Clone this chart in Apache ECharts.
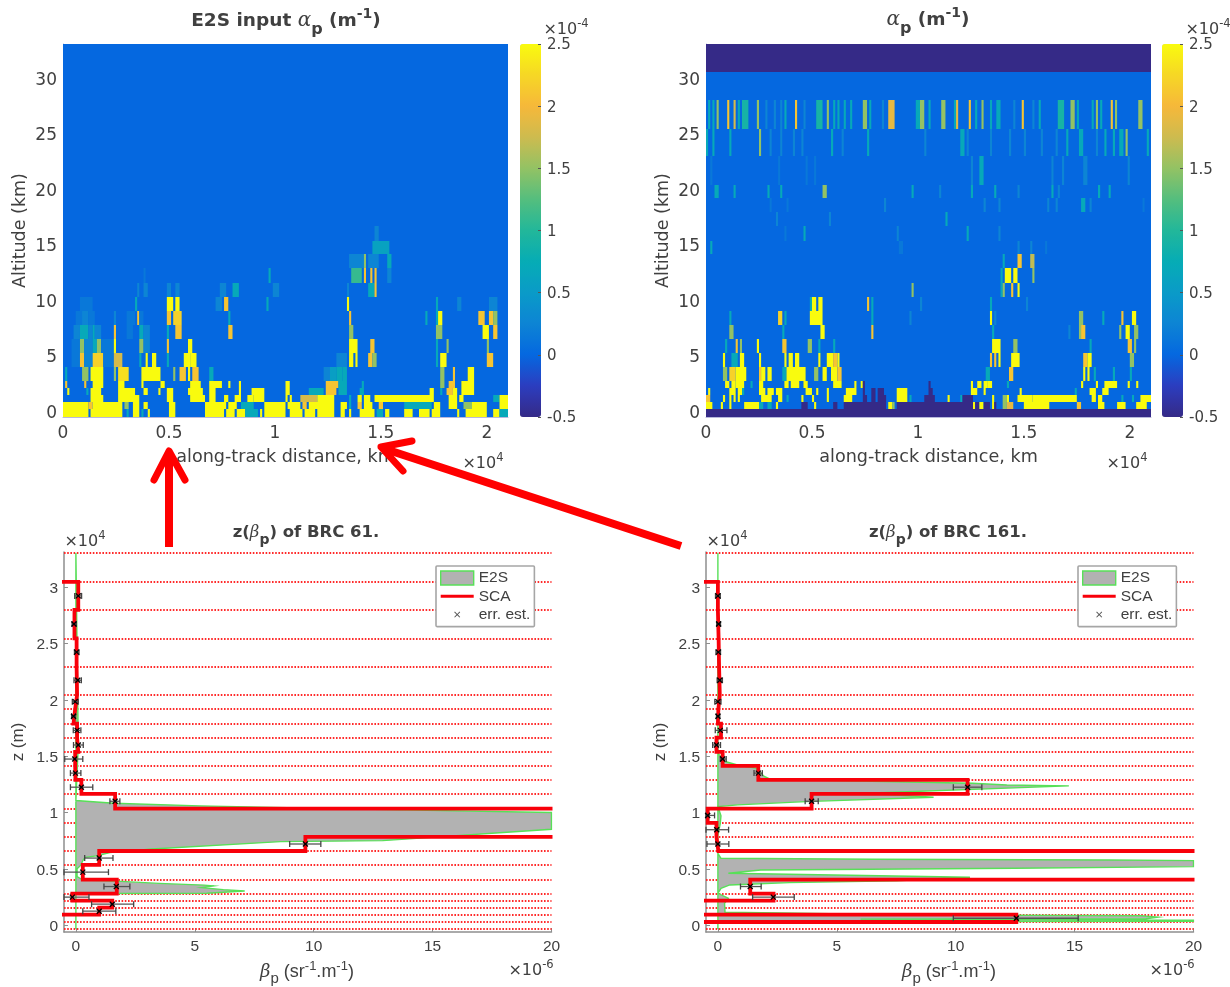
<!DOCTYPE html>
<html><head><meta charset="utf-8">
<style>html,body{margin:0;padding:0;background:#fff}#c{width:1230px;height:987px;filter:blur(.75px)}</style>
<script src="https://cdn.jsdelivr.net/npm/echarts@6/dist/echarts.min.js"></script>
</head><body><div id="c"></div>
<script>
// value levels of the alpha_p colour scale (x 1e-4 per m)
const Y=2.5,O=2.1,G=1.5,T=0.7,L=0.26,F=0.14,P=-0.5;
// altitude layer edges in km (heat maps) bottom to top
const heatEdges=[-0.54,0.18,0.8,1.45,2.1,2.7,3.95,5.2,6.5,7.75,9.05,10.3,11.55,12.85,14.1,15.35,16.65,17.9,19.15,20.4,22.95,25.4,28,30.5,33.06];
// each row: [first BRC, last BRC, value]; BRC spacing is 100 km
const inputR0=[[0,12,Y],[13,28,Y],[30,31,T],[33,36,Y],[37,38,T],[40,41,Y],[50,53,Y],[67,76,Y],[77,81,Y],[82,86,Y],[86,92,T],[93,94,Y],[95,105,Y],[107,113,Y],[114,119,Y],[120,128,Y],[131,133,Y],[135,136,Y],[140,147,Y],[148,151,T],[152,154,Y],[161,165,Y],[168,173,Y],[174,178,Y],[186,187,Y],[190,200,Y],[203,206,Y],[206,210,T]];
const inputR1=[[0,12,Y],[12,14,O],[14,28,Y],[29,31,G],[33,36,Y],[38,40,Y],[50,53,Y],[67,77,Y],[78,82,Y],[84,90,T],[95,105,Y],[106,112,Y],[113,115,O],[116,128,Y],[131,134,Y],[135,136,T],[139,141,O],[142,146,Y],[149,151,O],[161,174,T],[175,178,Y],[182,186,Y],[189,193,G],[193,200,Y],[206,210,Y]];
const inputR2=[[13,19,Y],[26,36,Y],[49,52,Y],[60,67,Y],[69,72,Y],[76,78,Y],[81,84,Y],[87,90,Y],[90,95,Y],[105,106,Y],[107,108,Y],[112,120,1.8],[120,128,Y],[135,136,T],[139,141,Y],[142,145,Y],[147,175,Y],[182,186,Y],[187,189,Y],[203,206,T],[206,210,Y]];
const inputR3=[[2,3,Y],[11,12,T],[13,18,Y],[26,34,Y],[38,40,Y],[45,46,Y],[49,52,Y],[59,66,Y],[69,72,Y],[83,84,Y],[89,95,Y],[105,107,Y],[116,123,T],[124,129,O],[130,134,T],[140,142,T],[173,175,Y],[178,179,T],[181,184,O],[184,186,Y],[188,194,Y]];
const inputR4=[[1,2,O],[10,11,O],[14,19,Y],[26,29,Y],[37,38,Y],[46,48,Y],[60,65,Y],[69,75,Y],[78,79,Y],[83,84,Y],[105,107,Y],[124,130,O],[130,134,T],[141,142,T],[178,180,G],[182,185,O],[188,194,Y]];
const inputR5=[[1,2,T],[9,12,G],[13,19,Y],[24,25,G],[26,31,2.3],[37,46,Y],[52,53,G],[55,58,O],[59,60,Y],[61,64,O],[69,71,T],[123,126,L],[126,129,0.55],[129,132,T],[132,134,T],[178,180,G],[184,185,O],[191,194,Y]];
const inputR6=[[4,8,F],[8,10,O],[10,14,L],[14,19,2.2],[19,24,F],[24,28,1.8],[36,37,T],[39,40,Y],[42,44,Y],[49,50,T],[57,60,Y],[60,63,Y],[129,134,L],[135,137,Y],[138,139,Y],[144,146,O],[146,148,G],[176,177,T],[178,181,Y],[200,203,O]];
const inputR7=[[4,8,F],[8,10,G],[10,14,L],[14,16,T],[16,18,G],[18,24,F],[24,25,Y],[36,38,G],[38,41,L],[49,50,O],[59,61,Y],[135,139,Y],[145,147,O],[176,177,T],[181,182,G],[200,201,G]];
const inputR8=[[5,8,L],[8,12,T],[12,14,L],[14,15,T],[15,18,L],[24,25,O],[30,33,F],[36,38,T],[38,41,L],[49,50,T],[53,56,O],[78,80,O],[135,137,G],[176,179,G],[198,201,Y],[203,205,O]];
const inputR9=[[6,9,F],[9,12,L],[12,15,F],[24,25,L],[30,34,F],[35,36,O],[36,38,F],[49,51,O],[52,56,2.2],[78,79,T],[135,136,O],[171,172,T],[176,177,T],[177,179,Y],[196,199,O],[201,203,O],[203,205,G]];
const inputR10=[[8,14,F],[34,35,T],[49,52,Y],[53,55,Y],[72,75,L],[76,78,O],[96,97,T],[134,135,Y],[176,177,T],[186,188,L],[201,205,L]];
const inputR11=[[35,36,L],[38,40,L],[49,51,L],[53,55,L],[74,77,L],[80,83,T],[99,102,L],[134,135,L],[144,147,T],[147,148,O]];
const inputR12=[[38,39,F],[97,98,T],[136,141,1.1],[142,143,O],[145,146,O],[147,148,O],[153,155,L]];
const inputR13=[[135,142,L],[142,143,G],[144,149,L],[153,155,T]];
const inputR14=[[146,154,0.6]];
const inputR15=[[147,149,L]];
const inputRows=[inputR0,inputR1,inputR2,inputR3,inputR4,inputR5,inputR6,inputR7,inputR8,inputR9,inputR10,inputR11,inputR12,inputR13,inputR14,inputR15];

const retR0=[[0,210,P]];
const retR1=[[0,3,Y],[7,8,Y],[11,12,Y],[18,25,Y],[25,27,T],[29,31,T],[33,34,Y],[45,48,P],[51,52,Y],[60,62,P],[65,67,P],[67,85,P],[86,88,Y],[88,89,G],[90,126,P],[126,127,Y],[127,129,P],[129,131,Y],[131,134,P],[135,136,Y],[136,137,P],[140,142,G],[142,145,1.9],[150,162,Y],[175,177,O],[185,188,Y],[194,198,Y],[203,208,Y]];
const retR2=[[0,2,O],[8,9,Y],[11,12,Y],[13,14,Y],[15,16,Y],[26,31,Y],[34,36,Y],[38,39,T],[45,46,Y],[50,51,Y],[57,58,Y],[65,69,Y],[74,76,P],[78,80,P],[81,85,P],[90,95,Y],[96,97,T],[103,108,P],[114,115,Y],[120,121,T],[121,126,P],[135,136,Y],[140,142,G],[142,143,Y],[147,154,Y],[154,175,Y],[182,184,Y],[185,187,Y],[196,197,T],[201,202,T],[205,210,Y]];
const retR3=[[1,2,Y],[11,14,Y],[15,17,Y],[17,18,T],[25,28,Y],[29,32,Y],[33,36,Y],[47,50,Y],[52,53,Y],[57,58,Y],[66,71,Y],[74,75,P],[78,80,P],[81,84,P],[90,95,Y],[105,107,P],[125,128,Y],[131,132,Y],[148,149,Y],[174,175,T],[181,184,Y],[187,190,Y]];
const retR4=[[9,11,Y],[12,14,Y],[14,18,Y],[21,22,T],[25,27,Y],[37,39,Y],[40,44,Y],[46,48,Y],[60,64,Y],[70,71,Y],[73,74,Y],[74,75,P],[105,106,P],[125,126,Y],[128,130,Y],[131,133,Y],[133,135,Y],[142,143,T],[177,178,Y],[184,185,Y],[188,194,Y],[199,200,Y],[203,204,Y]];
const retR5=[[8,10,G],[11,14,2.2],[14,19,Y],[25,26,O],[26,28,Y],[29,31,Y],[36,38,T],[38,47,Y],[51,53,G],[55,57,Y],[59,62,Y],[62,64,O],[132,134,T],[143,145,O],[178,179,Y],[180,181,Y],[183,184,T],[192,193,T],[200,201,T]];
const retR6=[[8,9,Y],[12,15,T],[16,18,Y],[25,26,Y],[37,38,Y],[39,41,Y],[42,44,Y],[53,54,Y],[57,60,Y],[60,62,O],[62,63,Y],[134,135,O],[136,137,O],[138,139,Y],[144,148,Y],[178,180,O],[180,182,Y],[200,202,G]];
const retR7=[[9,10,T],[14,15,O],[16,17,G],[24,25,Y],[36,38,O],[48,50,G],[53,54,T],[60,61,T],[135,139,Y],[145,147,G],[181,182,T],[199,201,O],[202,203,G]];
const retR8=[[11,13,G],[36,37,T],[54,56,Y],[78,79,O],[135,136,T],[171,172,L],[176,177,G],[177,179,O],[195,196,G],[198,200,Y],[202,204,G]];
const retR9=[[11,12,T],[34,36,2.2],[37,38,T],[49,55,Y],[78,79,T],[96,97,L],[134,135,Y],[136,137,L],[176,178,G],[187,188,T],[196,197,O],[201,203,Y]];
const retR10=[[49,50,T],[50,52,Y],[53,55,Y],[76,77,O],[78,79,T],[101,102,L],[134,135,T],[151,152,L]];
const retR11=[[97,98,G],[139,140,T],[140,141,G],[144,145,O],[147,148,Y]];
const retR12=[[139,140,T],[141,144,Y],[145,147,Y],[154,155,G]];
const retR13=[[140,141,T],[147,149,O],[153,155,1.7]];
const retR14=[[2,3,T],[91,93,F],[147,148,L],[153,154,L],[160,161,F]];
const retR15=[[37,38,F],[46,47,T],[90,91,L],[123,124,T],[138,139,L]];
const retR16=[[33,34,L],[58,59,L],[113,114,T]];
const retR17=[[30,31,F],[38,39,F],[84,85,L],[131,132,L],[138,139,L],[161,162,L],[165,166,L],[177,179,T],[181,182,L],[206,207,F]];
const retR18=[[4,6,T],[13,14,T],[29,30,T],[35,36,T],[55,57,G],[97,98,T],[110,111,L],[125,126,T],[136,137,T],[147,148,L],[163,164,T],[166,167,L],[185,186,T],[190,191,T]];
const retR19=[[2,3,F],[34,35,F],[47,48,F],[51,52,F],[125,126,L],[129,131,T],[163,164,L],[168,169,L],[178,180,L],[199,200,L]];
const retR20=[[0,1,T],[3,4,T],[11,12,T],[25,26,G],[30,31,L],[35,36,L],[41,42,L],[45,46,L],[59,60,T],[64,65,L],[76,77,T],[103,104,L],[120,122,T],[123,124,L],[134,135,L],[143,144,L],[150,151,L],[158,159,L],[165,166,L],[170,171,T],[176,178,T],[184,185,L],[188,189,T],[192,193,T],[195,197,T],[198,199,G],[208,209,T]];
const retR21=[[1,2,T],[3,4,T],[5,6,G],[10,11,O],[13,14,1.8],[15,16,T],[17,20,0.9],[24,25,G],[28,29,L],[32,33,L],[35,36,L],[37,38,T],[42,43,O],[46,47,L],[52,55,0.9],[57,58,G],[60,61,T],[62,63,T],[65,66,T],[68,69,T],[74,76,G],[77,78,T],[83,84,L],[86,89,1.9],[99,101,T],[101,103,G],[105,106,T],[111,113,G],[117,118,T],[118,119,1.9],[124,125,O],[127,128,T],[130,131,G],[134,135,T],[137,139,T],[145,146,L],[149,150,O],[154,155,L],[157,158,T],[166,169,0.9],[172,174,G],[175,176,T],[182,183,T],[184,185,G],[186,187,T],[191,192,O],[193,194,G],[204,206,G]];
const retR23=[[0,210,P]];
const retRows=[retR0,retR1,retR2,retR3,retR4,retR5,retR6,retR7,retR8,retR9,retR10,retR11,retR12,retR13,retR14,retR15,retR16,retR17,retR18,retR19,retR20,retR21,[],retR23];

// profile panels: layer edges in m, top to bottom
const layerEdges=[33070,30500,28000,25470,22950,20450,19200,17900,16650,15380,14150,12900,11650,10350,9080,7830,6580,5340,4030,2790,2160,1540,920,270,-350];
// SCA values per layer (1e-6); off-scale layers run beyond the axes
const sca61=[-5,0.1,-0.06,0.03,0.05,-0.03,-0.1,0.05,0.1,-0.03,-0.02,0.23,1.65,30,30,9.65,0.98,0.29,1.72,-0.15,1.53,0.98,-5,-5];
const sca161=[-5,0,0.03,0.05,0.08,0.02,0,0.13,-0.06,0.2,1.7,10.5,3.94,-0.43,-0.06,0.02,30,30,1.36,2.34,-5,-5,12.55,-5];
// E2S profile: altitude (m) and beta (1e-6), peaks held at the axis limit
const e2sZ61=[-350,2800,2830,3030,3150,3320,3470,3550,3700,3900,4000,4300,5000,5300,5750,6020,6140,6430,6760,7410,7500,8510,9995,10230,10590,10820,11060,16000,33070];
const e2sB61=[0,0,5.5,7.1,6.2,5.3,5.8,5.4,3.5,1.7,0.3,0.05,0.05,0.2,0.3,0.38,0.87,1.43,3.2,8.6,12.9,20,20,13.6,5.2,1.6,0,0.1,0];
const e2sZ161=[-350,250,300,330,420,450,480,520,560,700,820,900,1060,1130,1930,2370,2820,3260,3560,3770,3940,4240,4600,4890,5040,5190,5720,5780,5840,5930,6370,8000,9000,9700,10530,10680,10970,11360,11715,12370,12450,12600,12960,13200,13940,14180,14530,15270,33070];
const e2sB161=[0,0,8,20,20,11,16,6,18,18.5,17.8,8,3.4,0.3,0.28,0.44,0,0.13,0.5,3,7.5,10.6,0.44,1.8,12.5,20,20,16.5,6.5,0.13,0,0,0.1,0.13,0,0.84,3.7,9.07,6.2,14.76,12.15,10.7,2.2,1.95,1.6,0.9,0.3,0,0];
// error estimate: altitude, centre, low, high
const err61=[[29250,0.1,-0.05,0.24],[26750,-0.08,-0.16,0.02],[24250,0.03,-0.06,0.13],[21750,0.08,-0.08,0.23],[19850,-0.03,-0.15,0.1],[18550,-0.1,-0.18,-0.02],[17300,0.05,-0.11,0.21],[16000,0.1,-0.1,0.31],[14750,-0.05,-0.47,0.29],[13500,-0.02,-0.23,0.21],[12250,0.23,-0.23,0.71],[11000,1.65,1.43,1.85],[7200,9.65,8.99,10.3],[5950,0.98,0.37,1.56],[4700,0.29,-0.5,1.37],[3420,1.7,1.18,2.27],[2480,-0.15,-0.5,0.55],[1850,1.53,0.66,2.43],[1230,0.98,0.29,1.68]];
const err161=[[29250,0,-0.1,0.1],[26750,0.03,-0.05,0.11],[24250,0.02,-0.08,0.11],[21750,0.08,-0.03,0.19],[19850,0,-0.13,0.13],[18550,0,-0.06,0.08],[17300,0.1,-0.11,0.38],[16000,-0.06,-0.22,0.11],[14750,0.2,0.1,0.35],[13500,1.7,1.52,1.87],[12250,10.5,9.9,11.1],[11000,3.94,3.67,4.22],[9740,-0.43,-0.5,-0.14],[8470,-0.05,-0.5,0.45],[7200,0,-0.46,0.46],[3420,1.36,0.95,1.82],[2480,2.33,1.46,3.21],[600,12.55,9.9,15.15]];
// tick labels
const heatXTicks=[0,5000,10000,15000,20000];
const heatYTicks=[0,5,10,15,20,25,30];
const profXTicks=[0,5,10,15,20];
const profYTicks=[0,5000,10000,15000,20000,25000,30000];
const parula=['#352A87','#2C3DBF','#0568E0','#0D84D4','#0A9BC8','#06ACB5','#22B79A','#54BE7E','#93C264','#CDBB4F','#F6B83A','#F6D725','#F9FB0E'];

const SANS='"DejaVu Sans"', HEL='"Liberation Sans"', TXT='#404040';

function cells(rows){
  const out=[[0,21000,heatEdges[0],heatEdges[heatEdges.length-1],0]];
  rows.forEach(function(r,i){
    r.forEach(function(c){out.push([c[0]*100,c[1]*100,heatEdges[i],heatEdges[i+1],c[2]]);});
  });
  return out;
}
function rectItem(params,api){
  const a=api.coord([api.value(0),api.value(3)]),b=api.coord([api.value(1),api.value(2)]);
  return {type:'rect',shape:{x:a[0],y:Math.round(a[1]),width:b[0]-a[0],height:Math.round(b[1])-Math.round(a[1])},style:{fill:api.visual('color')}};
}
function steps(vals){
  const out=[];
  vals.forEach(function(v,i){out.push([v,layerEdges[i]],[v,layerEdges[i+1]]);});
  return out;
}
function pairs(z,b){return z.map(function(v,i){return [b[i],v];});}
function polySeries(g,z,b){
  const d=pairs(z,b);
  return {type:'custom',name:'E2S',xAxisIndex:g,yAxisIndex:g,z:3,silent:true,data:d,encode:{x:0,y:1},
    renderItem:function(params,api){
      if(params.dataIndex!==0) return null;
      return {type:'polygon',shape:{points:d.map(function(p){return api.coord(p);})},
        style:{fill:'#b2b2b2',stroke:'#58e058',lineWidth:1.4}};
    }};
}
function errSeries(g,rows){
  return {type:'custom',name:'err. est.',xAxisIndex:g,yAxisIndex:g,z:7,silent:true,data:rows,encode:{x:1,y:0},
    renderItem:function(params,api){
      const z=api.value(0),c=api.coord([api.value(1),z]),lo=api.coord([api.value(2),z]),hi=api.coord([api.value(3),z]);
      const line=function(x1,y1,x2,y2,col,w){return {type:'line',shape:{x1:x1,y1:y1,x2:x2,y2:y2},style:{stroke:col,lineWidth:w}};};
      return {type:'group',children:[
        line(lo[0],lo[1],hi[0],hi[1],'#555',1.3),
        line(lo[0],lo[1]-3,lo[0],lo[1]+3,'#444',1.3),
        line(hi[0],hi[1]-3,hi[0],hi[1]+3,'#444',1.3),
        line(c[0]-2.5,c[1]-2.5,c[0]+2.5,c[1]+2.5,'#000',1.3),
        line(c[0]-2.5,c[1]+2.5,c[0]+2.5,c[1]-2.5,'#000',1.3)
      ]};
    }};
}
function scaSeries(g,vals){
  return {type:'line',name:'SCA',xAxisIndex:g,yAxisIndex:g,z:5,silent:true,data:steps(vals),showSymbol:false,symbol:'none',clip:true,
    lineStyle:{color:'#f8000a',width:3.8,join:'miter'},itemStyle:{color:'#f8000a'}};
}
function layerSeries(g){
  return {type:'line',name:'layers',xAxisIndex:g,yAxisIndex:g,z:1,silent:true,data:[],
    markLine:{silent:true,z:1,symbol:'none',animation:false,label:{show:false},
      lineStyle:{color:'#ff2a2a',type:[1.6,1.6],width:1.9},
      data:layerEdges.map(function(e){return {yAxis:e};})}};
}
const axisGrey={lineStyle:{color:'#8e8e8e',width:1.5}};
// labels nudged down through a padded rich token, to sit level with the ticks
function nudged(font,size,pad){return {t:{fontFamily:font,fontSize:size,color:TXT,padding:[pad,0,0,0]}};}
function heatX(g){return {gridIndex:g,type:'value',min:0,max:21000,interval:5000,
  axisLine:{show:true,onZero:false,lineStyle:{color:'#b9b9dc',width:1}},axisTick:{show:false},splitLine:{show:false},
  axisLabel:{margin:8,fontFamily:SANS,fontSize:17,color:TXT,showMaxLabel:false,formatter:function(v){return heatXTicks.indexOf(v)<0?'':String(v/10000);}},
  name:'along-track distance, km',nameLocation:'middle',nameGap:31,nameTextStyle:{fontFamily:SANS,fontSize:17.6,color:TXT}};}
function heatY(g){return {gridIndex:g,type:'value',min:-0.54,max:33.06,
  axisLine:{show:true,onZero:false,lineStyle:{color:'#b9b9dc',width:1}},axisTick:{show:false},splitLine:{show:false},
  axisLabel:{margin:6,customValues:heatYTicks,rich:nudged(SANS,17,5),formatter:function(v){return '{t|'+v+'}';}},
  name:'Altitude (km)',nameLocation:'middle',nameGap:34,nameTextStyle:{fontFamily:SANS,fontSize:17.5,color:TXT}};}
function barX(g){return {gridIndex:g,type:'value',min:0,max:1,show:false};}
function barY(g){return {gridIndex:g,type:'value',position:'right',min:-0.5,max:2.5,interval:0.5,z:10,
  axisLine:{show:false,onZero:false},axisTick:{show:true,inside:true,length:3,lineStyle:{color:'#555'}},splitLine:{show:false},
  axisLabel:{margin:6,rich:nudged(SANS,15,3),formatter:function(v){return '{t|'+v+'}';}}};}
function profX(g){return {gridIndex:g,type:'value',min:-0.5,max:20,
  axisLine:Object.assign({show:true,onZero:false},axisGrey),axisTick:{show:true,inside:true,length:4,customValues:profXTicks,lineStyle:{color:'#8e8e8e'}},splitLine:{show:false},
  axisLabel:{margin:7,fontFamily:HEL,fontSize:15.5,color:TXT,customValues:profXTicks,formatter:function(v){return String(v);}},
  };}
function profY(g){return {gridIndex:g,type:'value',min:-620,max:33150,
  axisLine:Object.assign({show:true,onZero:false},axisGrey),axisTick:{show:true,inside:true,length:4,customValues:profYTicks,lineStyle:{color:'#8e8e8e'}},splitLine:{show:false},
  axisLabel:{margin:6,customValues:profYTicks,rich:nudged(HEL,15.5,3),formatter:function(v){return '{t|'+(v/10000)+'}';}},
  name:'z (m)',nameLocation:'middle',nameGap:37,nameTextStyle:{fontFamily:HEL,fontSize:17,color:TXT}};}
function legendBox(left){
  return {show:true,left:left,top:566,orient:'vertical',itemWidth:33,itemHeight:14,itemGap:2.3,padding:[4,4,4,4],selectedMode:false,
    backgroundColor:'#fff',borderColor:'#a6a6a6',borderWidth:1.6,borderRadius:1,
    textStyle:{fontFamily:HEL,fontSize:15.5,lineHeight:15,color:TXT},
    data:[{name:'E2S',icon:'rect',itemStyle:{color:'#b2b2b2',borderColor:'#58e058',borderWidth:1.4}},
      {name:'SCA',icon:'path://M0,0M33,14M0,5.5H33V8.5H0Z',itemStyle:{color:'#f8000a',borderWidth:0}},
      {name:'err. est.',icon:'path://M0,0M14,14M4,4.7L4.7,4L7,6.3L9.3,4L10,4.7L7.7,7L10,9.3L9.3,10L7,7.7L4.7,10L4,9.3L6.3,7Z',itemStyle:{color:'#555',borderWidth:0}}]};
}
function txt(x,y,text,rich,align){
  return {type:'text',x:x,y:y,z:20,silent:true,style:{text:text,rich:rich,textAlign:align||'center',textVerticalAlign:'middle',fill:TXT}};
}
const titleRich={b:{fontFamily:SANS,fontWeight:'bold',fontSize:18.5,color:'#111',lineHeight:34},g:{fontFamily:'"DejaVu Serif"',fontStyle:'italic',fontSize:20,color:'#222',lineHeight:34},
  s:{fontFamily:SANS,fontWeight:'bold',fontSize:16,color:'#111',verticalAlign:'bottom',lineHeight:16},u:{fontFamily:SANS,fontWeight:'bold',fontSize:14,color:'#111',verticalAlign:'top',lineHeight:16,padding:[3,0,0,0]}};
const smallRich={b:{fontFamily:SANS,fontWeight:'bold',fontSize:16.5,color:'#111',lineHeight:28},g:{fontFamily:'"DejaVu Serif"',fontStyle:'italic',fontSize:16.5,color:'#666',lineHeight:28},
  s:{fontFamily:SANS,fontWeight:'bold',fontSize:14,color:'#111',verticalAlign:'bottom',lineHeight:14}};
const multRich={m:{fontFamily:SANS,fontSize:16,color:TXT,lineHeight:24},u:{fontFamily:SANS,fontSize:11.5,color:TXT,verticalAlign:'top',lineHeight:12}};
const betaRich={m:{fontFamily:HEL,fontSize:18,color:TXT,lineHeight:28},g:{fontFamily:'"DejaVu Serif"',fontStyle:'italic',fontSize:18,color:'#666',lineHeight:28},
  s:{fontFamily:HEL,fontSize:15,color:TXT,verticalAlign:'bottom',lineHeight:14},u:{fontFamily:HEL,fontSize:13,color:TXT,verticalAlign:'top',lineHeight:14,padding:[2,0,0,0]}};
const RED='#ff0000';
function stroke(points,w){return {type:'polyline',z:30,silent:true,shape:{points:points},style:{stroke:RED,lineWidth:w,fill:'none',lineCap:'round',lineJoin:'round'}};}

const option={
  animation:false,backgroundColor:'#fff',
  grid:[
    {left:63,top:44,width:445,height:373},
    {left:520,top:44,width:21,height:373},
    {left:706,top:44,width:445,height:373},
    {left:1162,top:44,width:21,height:373},
    {left:64,top:552,width:487.5,height:380},
    {left:706,top:552,width:487.5,height:380}
  ],
  xAxis:[heatX(0),barX(1),heatX(2),barX(3),profX(4),profX(5)],
  yAxis:[heatY(0),barY(1),heatY(2),barY(3),profY(4),profY(5)],
  visualMap:[
    {type:'continuous',seriesIndex:0,dimension:4,min:-0.5,max:2.5,left:520,top:44,itemWidth:21,itemHeight:373,padding:0,text:['',''],showLabel:false,calculable:false,hoverLink:false,inRange:{color:parula}},
    {type:'continuous',seriesIndex:1,dimension:4,min:-0.5,max:2.5,left:1162,top:44,itemWidth:21,itemHeight:373,padding:0,text:['',''],showLabel:false,calculable:false,hoverLink:false,inRange:{color:parula}}
  ],
  legend:[legendBox(436),legendBox(1078)],
  series:[
    {type:'custom',name:'input',xAxisIndex:0,yAxisIndex:0,silent:true,data:cells(inputRows),encode:{x:[0,1],y:[2,3]},renderItem:rectItem},
    {type:'custom',name:'retrieved',xAxisIndex:2,yAxisIndex:2,silent:true,data:cells(retRows),encode:{x:[0,1],y:[2,3]},renderItem:rectItem},
    layerSeries(4),polySeries(4,e2sZ61,e2sB61),scaSeries(4,sca61),errSeries(4,err61),
    layerSeries(5),polySeries(5,e2sZ161,e2sB161),scaSeries(5,sca161),errSeries(5,err161)
  ],
  graphic:[
    {type:'rect',z:19,silent:true,shape:{x:552.5,y:552,width:6,height:379},style:{fill:'#fff'}},
    {type:'rect',z:19,silent:true,shape:{x:1194.5,y:552,width:6,height:379},style:{fill:'#fff'}},
    txt(286,21,'{b|E2S input }{g|α}{s|p}{b| (m}{u|-1}{b|)}',titleRich),
    txt(928,20,'{g|α}{s|p}{b| (m}{u|-1}{b|)}',titleRich),
    txt(306,533,'{b|z(}{g|β}{s|p}{b|) of BRC 61.}',smallRich),
    txt(948,533,'{b|z(}{g|β}{s|p}{b|) of BRC 161.}',smallRich),
    txt(483,464,'{m|×10}{u|4}',multRich),
    txt(1127,464,'{m|×10}{u|4}',multRich),
    txt(566,30,'{m|×10}{u|-4}',multRich),
    txt(1208,30,'{m|×10}{u|-4}',multRich),
    txt(85,542,'{m|×10}{u|4}',multRich),
    txt(727,542,'{m|×10}{u|4}',multRich),
    txt(531,971,'{m|×10}{u|-6}',multRich),
    txt(1172,971,'{m|×10}{u|-6}',multRich),
    txt(307,972,'{g|β}{s|p}{m| (sr}{u|-1}{m|.m}{u|-1}{m|)}',betaRich),
    txt(949,972,'{g|β}{s|p}{m| (sr}{u|-1}{m|.m}{u|-1}{m|)}',betaRich),
    {type:'rect',z:29,silent:true,shape:{x:165,y:452,width:8,height:95},style:{fill:RED}},
    stroke([[154,480],[169,451],[185,480]],7),
    {type:'polyline',z:29,silent:true,shape:{points:[[681,546],[385,449]]},style:{stroke:RED,lineWidth:8,fill:'none'}},
    stroke([[412,441],[381,447],[403,471]],7)
  ]
};
const chart=echarts.init(document.getElementById('c'),null,{renderer:'canvas'});
chart.setOption(option);
</script></body></html>
